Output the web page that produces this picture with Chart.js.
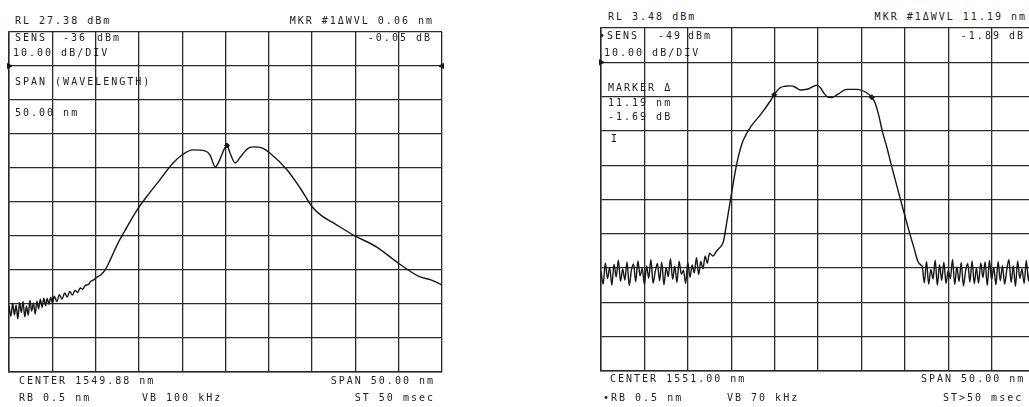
<!DOCTYPE html>
<html>
<head>
<meta charset="utf-8">
<script src="https://cdn.jsdelivr.net/npm/chart.js"></script>
<style>
  body { margin: 0; width: 1029px; height: 407px; overflow: hidden; background: #fff; position: relative; }
  .scope { position: absolute; }
  .t { position: absolute; font-family: "DejaVu Sans Mono", monospace; font-size: 10px; line-height: 10px;
       letter-spacing: 2px; color: #222; white-space: pre; }
</style>
</head>
<body>
<canvas id="leftScope" class="scope" width="445" height="352" style="left:3px;top:26px"></canvas>
<canvas id="rightScope" class="scope" width="446" height="355" style="left:595px;top:22px"></canvas>

<!-- left screen -->
<div class="t" style="left:15px;top:16px">RL 27.38 dBm</div>
<div class="t" style="right:595px;top:16px">MKR #1ΔWVL 0.06 nm</div>
<div class="t" style="left:15px;top:33px">SENS</div>
<div class="t" style="left:63px;top:33px">-36</div>
<div class="t" style="left:97px;top:33px">dBm</div>
<div class="t" style="right:597px;top:33px">-0.05 dB</div>
<div class="t" style="left:13px;top:48px">10.00 dB/DIV</div>
<div class="t" style="left:15px;top:77px">SPAN (WAVELENGTH)</div>
<div class="t" style="left:15px;top:108px">50.00 nm</div>
<div class="t" style="left:19px;top:376px">CENTER 1549.88 nm</div>
<div class="t" style="left:19px;top:393px">RB 0.5 nm</div>
<div class="t" style="left:142px;top:393px">VB 100 kHz</div>
<div class="t" style="right:594px;top:376px">SPAN 50.00 nm</div>
<div class="t" style="right:594px;top:393px">ST 50 msec</div>

<!-- right screen -->
<div class="t" style="left:608px;top:12px">RL 3.48 dBm</div>
<div class="t" style="right:2px;top:12px">MKR #1ΔWVL 11.19 nm</div>
<div class="t" style="left:599px;top:31px">•SENS</div>
<div class="t" style="left:658px;top:31px">-49</div>
<div class="t" style="left:688px;top:31px">dBm</div>
<div class="t" style="right:4px;top:31px">-1.89 dB</div>
<div class="t" style="left:604px;top:48px">10.00 dB/DIV</div>
<div class="t" style="left:608px;top:83px">MARKER Δ</div>
<div class="t" style="left:608px;top:98px">11.19 nm</div>
<div class="t" style="left:608px;top:112px">-1.69 dB</div>
<div class="t" style="left:611px;top:134px">I</div>
<div class="t" style="left:610px;top:374px">CENTER 1551.00 nm</div>
<div class="t" style="left:603px;top:393px">•RB 0.5 nm</div>
<div class="t" style="left:727px;top:393px">VB 70 kHz</div>
<div class="t" style="left:921px;top:374px">SPAN 50.00 nm</div>
<div class="t" style="left:943px;top:393px">ST&gt;50 msec</div>

<script>
// left trace: broadband source, RL 27.38 dBm, center 1549.88 nm
var leftCenter = 1549.88;
var leftRefLevel = 27.38;
var leftWavelength = [
    1524.88, 1525.1, 1525.3, 1525.5, 1525.7, 1525.9, 1526.1, 1526.3, 1526.5, 1526.7,
    1526.9, 1527.1, 1527.3, 1527.5, 1527.7, 1527.9, 1528.1, 1528.3, 1528.5, 1528.7,
    1528.9, 1529.1, 1529.3, 1529.5, 1529.7, 1529.9, 1530.1, 1530.4, 1530.7, 1531.0,
    1531.3, 1531.6, 1531.9, 1532.2, 1532.5, 1532.8, 1533.1, 1533.4, 1533.7, 1534.0,
    1534.3, 1534.6, 1535.0, 1535.5, 1536.0, 1536.6, 1537.35, 1538.5, 1539.66, 1541.0,
    1542.3, 1543.8, 1544.86, 1546.1, 1547.5, 1548.1, 1548.7, 1549.2, 1549.8, 1550.05,
    1550.4, 1551.0, 1551.6, 1552.4, 1553.06, 1554.1, 1555.0, 1557.0, 1558.5, 1559.9,
    1561.0, 1562.3, 1564.83, 1567.3, 1569.9, 1572.3, 1573.6, 1574.88
];
var leftPower = [
    -53.1, -56.2, -52.4, -55.8, -53.0, -57.0, -52.2, -55.1, -51.9, -56.4,
    -53.3, -55.9, -51.6, -54.7, -52.3, -55.6, -51.8, -54.0, -51.2, -53.6,
    -50.9, -53.1, -51.0, -52.7, -50.6, -52.4, -50.3, -51.9, -49.9, -51.2,
    -49.4, -50.6, -48.9, -50.0, -48.6, -49.2, -47.9, -48.3, -47.1, -47.0,
    -46.0, -45.6, -44.8, -44.0, -42.5, -39.5, -35.3, -30.0, -25.0, -20.3,
    -16.1, -11.2, -8.8, -7.3, -7.6, -8.8, -12.3, -10.3, -6.7, -6.0,
    -8.2, -11.1, -9.4, -7.0, -6.4, -6.7, -8.2, -13.2, -18.5, -24.1,
    -26.7, -28.7, -32.6, -35.8, -40.7, -44.6, -45.5, -47.0
];
var leftMarkerWavelength = [1550.05];
var leftMarkerPower = [-6.0];

// right trace: filtered passband, RL 3.48 dBm, center 1551.00 nm
var rightCenter = 1551.00;
var rightRefLevel = 3.48;
var rightWavelength = [
    1526.00, 1526.25, 1526.50, 1526.75, 1527.00, 1527.25, 1527.50, 1527.75, 1528.00, 1528.25,
    1528.50, 1528.75, 1529.00, 1529.25, 1529.50, 1529.75, 1530.00, 1530.25, 1530.50, 1530.75,
    1531.00, 1531.25, 1531.50, 1531.75, 1532.00, 1532.25, 1532.50, 1532.75, 1533.00, 1533.25,
    1533.50, 1533.75, 1534.00, 1534.25, 1534.50, 1534.75, 1535.00, 1535.25, 1535.50, 1535.75,
    1536.00, 1536.25, 1536.50, 1536.75, 1537.00, 1537.25, 1537.50, 1537.75, 1538.00, 1538.25,
    1538.50,
    1538.9, 1539.3, 1539.7, 1540.1, 1540.5, 1540.88, 1541.25, 1541.65, 1542.05, 1542.4,
    1543.2, 1544.47, 1545.5, 1545.95, 1546.6, 1547.2, 1547.8, 1548.4, 1548.95, 1549.4,
    1549.9, 1550.4, 1550.9, 1551.3, 1551.7, 1552.1, 1552.6, 1553.3, 1554.3, 1555.5,
    1556.6, 1557.2, 1557.6, 1558.0, 1558.4, 1558.9, 1559.5, 1560.5, 1561.5, 1562.1,
    1562.5, 1562.8,
    1563.00, 1563.25, 1563.50, 1563.75, 1564.00, 1564.25, 1564.50, 1564.75, 1565.00, 1565.25,
    1565.50, 1565.75, 1566.00, 1566.25, 1566.50, 1566.75, 1567.00, 1567.25, 1567.50, 1567.75,
    1568.00, 1568.25, 1568.50, 1568.75, 1569.00, 1569.25, 1569.50, 1569.75, 1570.00, 1570.25,
    1570.50, 1570.75, 1571.00, 1571.25, 1571.50, 1571.75, 1572.00, 1572.25, 1572.50, 1572.75,
    1573.00, 1573.25, 1573.50, 1573.75, 1574.00, 1574.25, 1574.50, 1574.75, 1575.00, 1575.25,
    1575.50, 1575.75, 1576.00
];
var rightPower = [
    -67.5, -71.2, -65.0, -69.6, -66.3, -71.5, -65.4, -69.1, -64.2, -70.4,
    -66.8, -70.0, -64.7, -71.6, -67.2, -65.3, -70.5, -64.4, -68.8, -66.6,
    -71.3, -65.9, -69.5, -64.1, -70.9, -67.5, -65.2, -70.2, -64.8, -71.4,
    -66.4, -69.0, -63.8, -69.8, -66.0, -70.7, -64.5, -68.3, -67.1, -71.0,
    -64.9, -69.2, -65.6, -67.9, -63.5, -68.4, -64.6, -66.7, -63.0, -65.1,
    -62.2,
    -63.0, -61.6, -60.5, -58.8, -53.0, -47.2, -41.5, -36.0, -31.8, -29.2,
    -25.5, -21.5, -17.8, -16.0, -14.0, -13.5, -13.4, -13.8, -14.6, -14.5,
    -14.3, -13.6, -13.2, -14.0, -15.6, -16.6, -16.8, -15.8, -14.4, -14.4,
    -15.4, -16.7, -18.5, -22.0, -26.5, -31.0, -37.0, -46.5, -55.8, -61.0,
    -64.5, -65.5,
    -66.0, -70.8, -64.6, -71.2, -66.9, -69.7, -64.2, -71.5, -65.5, -70.1,
    -64.8, -71.0, -67.1, -69.6, -64.0, -71.3, -66.2, -70.4, -64.9, -71.7,
    -67.4, -65.2, -70.6, -64.4, -71.1, -66.5, -70.9, -65.0, -69.3, -64.7,
    -71.6, -64.3, -69.9, -66.3, -71.4, -64.6, -70.2, -65.8, -71.2, -67.0,
    -64.1, -70.7, -65.9, -71.8, -64.5, -69.5, -66.8, -71.0, -64.3, -70.3,
    -65.4, -71.5, -66.7
];
var rightMarkerWavelength = [1545.95, 1557.2];
var rightMarkerPower = [-16.0, -16.7];

var ink = "#161616";
var gridInk = "#2a2a2a";

function toPoints(xs, ys) {
    var pts = [];
    for (var i = 0; i < xs.length; i++) {
        pts.push({ x: xs[i], y: ys[i] });
    }
    return pts;
}

function drawScope(id, center, refLevel, xs, ys, mx, my) {
    var lo = center - 25;
    var hi = center + 25;
    var bottom = refLevel - 100;
    var ctx = document.getElementById(id).getContext("2d");

    return new Chart(ctx, {
        type: "scatter",
        data: {
            datasets: [
                {
                    data: toPoints(xs, ys),
                    showLine: true,
                    borderColor: ink,
                    borderWidth: 1.4,
                    pointRadius: 0,
                    cubicInterpolationMode: "monotone",
                },
                {
                    data: toPoints(mx, my),
                    pointStyle: "rectRot",
                    pointRadius: 2.5,
                    backgroundColor: ink,
                    borderColor: ink,
                    borderWidth: 1,
                },
                {
                    // reference level arrows on the second division line
                    data: [{ x: lo, y: refLevel - 10 }, { x: hi, y: refLevel - 10 }],
                    pointStyle: "triangle",
                    rotation: [90, -90],
                    pointRadius: 3,
                    backgroundColor: ink,
                    borderColor: ink,
                    borderWidth: 1,
                    clip: false,
                },
            ],
        },
        options: {
            responsive: false,
            animation: false,
            devicePixelRatio: 1,
            layout: { padding: 6 },
            plugins: {
                legend: { display: false },
                tooltip: { enabled: false },
            },
            scales: {
                x: {
                    type: "linear",
                    min: lo,
                    max: hi,
                    afterBuildTicks: function (axis) {
                        var t = [];
                        for (var i = 0; i <= 10; i++) t.push({ value: lo + i * 5 });
                        axis.ticks = t;
                    },
                    ticks: { display: false },
                    grid: { color: gridInk, lineWidth: 1.3, drawTicks: false },
                    border: { color: gridInk, width: 1.5 },
                },
                y: {
                    type: "linear",
                    min: bottom,
                    max: refLevel,
                    afterBuildTicks: function (axis) {
                        var t = [];
                        for (var i = 0; i <= 10; i++) t.push({ value: bottom + i * 10 });
                        axis.ticks = t;
                    },
                    ticks: { display: false },
                    grid: { color: gridInk, lineWidth: 1.3, drawTicks: false },
                    border: { color: gridInk, width: 1.5 },
                },
            },
        },
    });
}

var leftChart = drawScope("leftScope", leftCenter, leftRefLevel, leftWavelength, leftPower,
    leftMarkerWavelength, leftMarkerPower);
var rightChart = drawScope("rightScope", rightCenter, rightRefLevel, rightWavelength, rightPower,
    rightMarkerWavelength, rightMarkerPower);
</script>
</body>
</html>
